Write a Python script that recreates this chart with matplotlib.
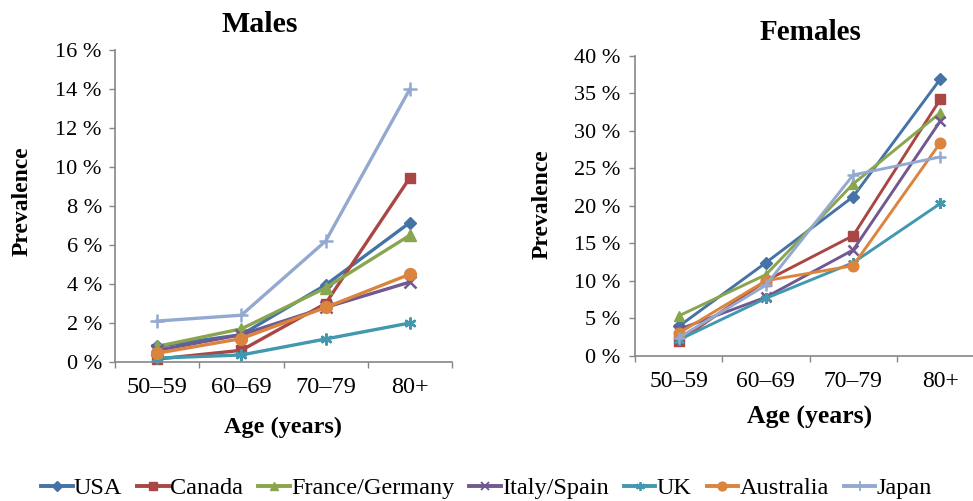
import matplotlib
matplotlib.use("Agg")
import matplotlib.pyplot as plt
from matplotlib.lines import Line2D

plt.rcParams['font.family'] = ['Liberation Serif', 'DejaVu Serif']

categories = ["50–59", "60–69", "70–79", "80+"]
countries = ["USA", "Canada", "France/Germany", "Italy/Spain", "UK", "Australia", "Japan"]

males_usa = [0.8, 1.4, 3.95, 7.15]
males_canada = [0.15, 0.6, 3.0, 9.45]
males_france = [0.8, 1.7, 3.8, 6.5]
males_italy = [0.6, 1.4, 2.8, 4.1]
males_uk = [0.2, 0.36, 1.18, 2.0]
males_australia = [0.45, 1.2, 2.8, 4.5]
males_japan = [2.1, 2.4, 6.2, 14.0]

females_usa = [3.9, 12.4, 21.2, 36.9]
females_canada = [1.9, 10.0, 16.0, 34.2]
females_france = [5.3, 10.8, 22.9, 32.4]
females_italy = [3.5, 7.8, 14.1, 31.3]
females_uk = [2.1, 7.65, 12.4, 20.3]
females_australia = [3.0, 10.0, 12.0, 28.4]
females_japan = [2.4, 9.4, 24.1, 26.5]

males_ticks = [0, 2, 4, 6, 8, 10, 12, 14, 16]
females_ticks = [0, 5, 10, 15, 20, 25, 30, 35, 40]

colors = ["#4572A7", "#AA4643", "#89A54E", "#71588F", "#4198AF", "#DB843D", "#93A9CF"]
markers = ["D", "s", "^", "x", (6, 2, 0), "o", "+"]
msizes = [6.5, 7.5, 8, 8, 8.5, 8.5, 10]

males = [males_usa, males_canada, males_france, males_italy, males_uk, males_australia, males_japan]
females = [females_usa, females_canada, females_france, females_italy, females_uk, females_australia, females_japan]

W, H = 973, 501
fig = plt.figure(figsize=(W / 100, H / 100), dpi=100)

def px_axes(x0, x1, ytop, ybot):
    return fig.add_axes([x0 / W, 1 - ybot / H, (x1 - x0) / W, (ybot - ytop) / H])

ax_m = px_axes(115, 452, 50, 362)
ax_f = px_axes(635, 984, 55.7, 355.7)

gray = "#868686"

def style(ax, data, ticks, ytick_fs, xtick_fs, lw, ypad, mscale):
    x = list(range(len(categories)))
    for vals, c, m, ms in zip(data, colors, markers, msizes):
        mew = 1.8 if m in ("x", "+", (6, 2, 0)) else 1.0
        ax.plot(x, vals, color=c, lw=lw, marker=m, markersize=ms * mscale,
                markeredgewidth=mew, markerfacecolor=c, markeredgecolor=c,
                clip_on=False)
    ax.set_xlim(-0.5, len(categories) - 0.5)
    ax.set_ylim(ticks[0], ticks[-1])
    ax.set_yticks(ticks)
    ax.set_yticklabels([f"{t} %" for t in ticks])
    ax.set_xticks([i - 0.5 for i in range(len(categories) + 1)])
    ax.set_xticklabels([])
    ax.set_xticks(x, minor=True)
    ax.set_xticklabels(categories, minor=True)
    ax.tick_params(axis='x', which='minor', length=0, labelsize=xtick_fs, pad=11)
    ax.tick_params(axis='x', which='major', length=4.5, width=1, color=gray, direction='out')
    ax.tick_params(axis='y', length=4.5, width=1, color=gray, direction='out',
                   labelsize=ytick_fs, pad=ypad)
    for s in ("top", "right"):
        ax.spines[s].set_visible(False)
    for s in ("left", "bottom"):
        ax.spines[s].set_color(gray)
        ax.spines[s].set_linewidth(1.2)

style(ax_m, males, males_ticks, 16, 17.5, 2.4, 5, 1.0)
style(ax_f, females, females_ticks, 16, 17, 2.1, 6, 0.9)

fig.text(260 / W, 1 - 24 / H, "Males", ha='center', va='center', fontsize=21.5, fontweight='bold')
fig.text(810 / W, 1 - 33 / H, "Females", ha='center', va='center', fontsize=21, fontweight='bold')
fig.text(283 / W, 1 - 427 / H, "Age (years)", ha='center', va='center', fontsize=17.5, fontweight='bold')
fig.text(810 / W, 1 - 417 / H, "Age (years)", ha='center', va='center', fontsize=18.5, fontweight='bold')
fig.text(22 / W, 1 - 201 / H, "Prevalence", ha='center', va='center', rotation=90, fontsize=17, fontweight='bold')
fig.text(542 / W, 1 - 204 / H, "Prevalence", ha='center', va='center', rotation=90, fontsize=17, fontweight='bold')

handles = []
for name, c, m, ms in zip(countries, colors, markers, msizes):
    mew = 1.3 if m in ("x", "+", (6, 2, 0)) else 1.0
    handles.append(Line2D([0], [0], color=c, lw=2.8, marker=m, markersize=ms * 0.75,
                          markeredgewidth=mew, markerfacecolor=c, markeredgecolor=c, label=name))
fig.legend(handles=handles, loc='center', bbox_to_anchor=(0.5, 1 - 488 / H), ncol=7,
           frameon=False, fontsize=17.5, handlelength=1.3, handletextpad=0.05,
           columnspacing=0.62, borderpad=0)

fig.savefig("out.png", dpi=100)
